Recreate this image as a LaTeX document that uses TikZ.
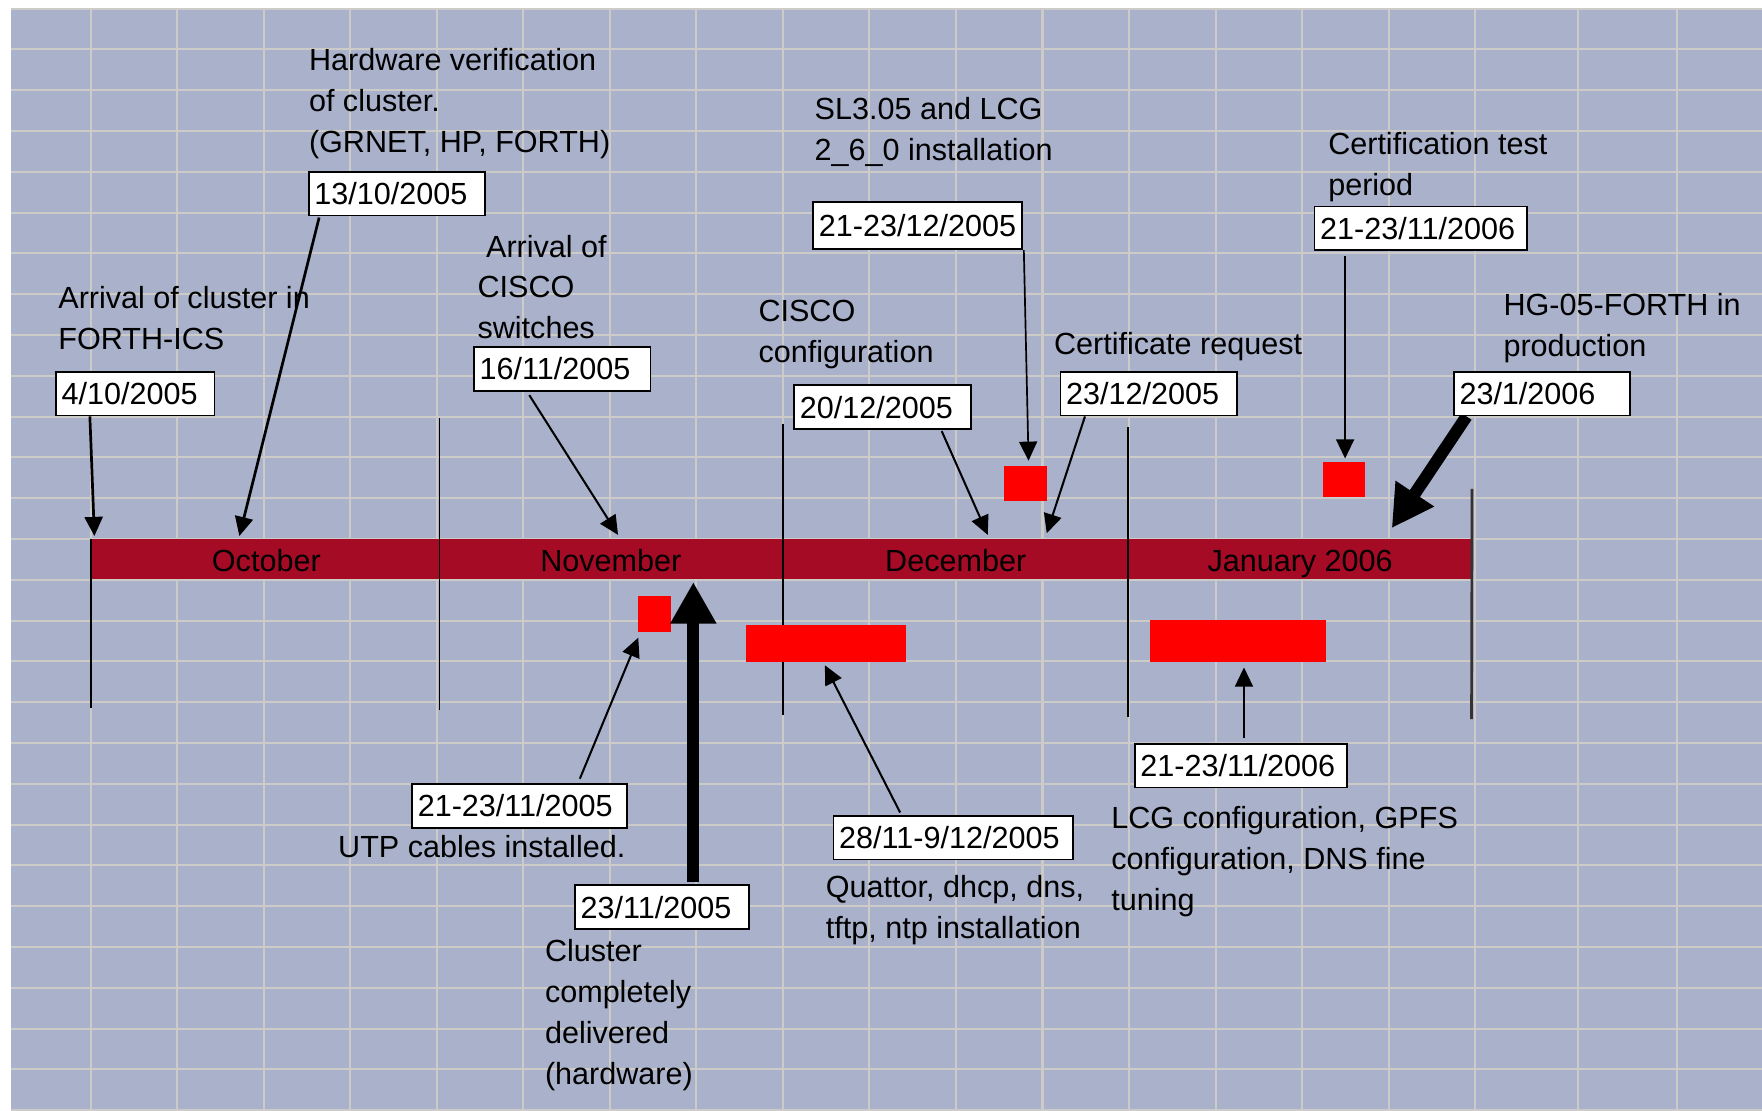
\documentclass[tikz,border=0pt]{standalone}
\usepackage{fontspec}
\setmainfont{Liberation Sans}
\usetikzlibrary{arrows.meta,calc}
\pgfdeclarelayer{front}
\pgfsetlayers{main,front}
\definecolor{bgblue}{HTML}{A9B1CB}
\definecolor{gridgray}{HTML}{CCCBC8}
\definecolor{barred}{HTML}{A50B24}
\definecolor{markred}{HTML}{FF0000}
\tikzset{
  lbl/.style={font=\fontsize{13.6}{18.2}\selectfont, align=left, inner sep=0pt, outer sep=0pt, anchor=north west, text=black},
  datebox/.style={draw=black, line width=0.8pt, fill=white, font=\fontsize{13.6}{16}\selectfont, inner xsep=2.5pt, inner ysep=0pt, minimum height=19.5pt, text width=#1, align=left, anchor=north west},
  monthlbl/.style={font=\fontsize{13.6}{16}\selectfont, anchor=base, inner sep=0pt, text=black},
  gridln/.style={gridgray, line width=0.9pt},
  monthtick/.style={black, line width=0.7pt},
  markbox/.style={fill=markred, draw=none, inner sep=0pt, outer sep=0pt, anchor=north west},
  arr/.style={black, line width=0.9pt, -{Triangle[length=8.5pt,width=8pt]}},
  arrbold/.style={black, line width=1.2pt, -{Triangle[length=8.5pt,width=8pt]}},
  arrthin/.style={black, line width=0.75pt, -{Triangle[length=8.5pt,width=8pt]}},
  arrbig/.style={black, line width=5.4pt, -{Triangle[length=18.5pt,width=19.3pt]}},
}
\begin{document}
\begin{tikzpicture}[x=0.5pt,y=-0.5pt]
\useasboundingbox (0,0) rectangle (1568,988);
\fill[white] (0,0) rectangle (1568,988);
\fill[bgblue] (10,7.7) rectangle (1568,988);
\begin{scope}
  \clip (10,7.7) rectangle (1568,988);
  \foreach \k in {0,...,16} {\draw[gridln] ({80.7+77*\k},0) -- ({80.7+77*\k},988);}
  \foreach \xx in {1404.3,1492.4} {\draw[gridln] (\xx,0) -- (\xx,988);}
  \foreach \k in {-1,...,26} {\draw[gridln] (0,{43.96+36.31*\k}) -- (1568,{43.96+36.31*\k});}
\end{scope}

% timeline bar
\node[fill=barred, inner sep=0pt, outer sep=0pt, minimum width=614pt, minimum height=17.5pt, anchor=north west] (bar) at (82,480) {};
\node[monthlbl] (oct) at (237,509) {October};
\node[monthlbl] (nov) at (543.5,509) {November};
\node[monthlbl] (dec) at (850.5,509) {December};
\node[monthlbl] (jan) at (1157,509) {January 2006};

% month ticks
\draw[monthtick] (81,480) -- (81,630);
\draw[monthtick] (391,372) -- (391,632);
\draw[monthtick] (697,377) -- (697,636);
\draw[monthtick] (1004,380) -- (1004,638);
\draw[monthtick, line width=1.2pt, black!80] (1310,435) -- (1309.5,640);

% red marks
\node[markbox, minimum width=19.3pt, minimum height=15.5pt] (sqA) at (893,415) {};
\node[markbox, minimum width=19pt, minimum height=15.5pt] (sqB) at (1177,411) {};
\node[markbox, minimum width=15pt, minimum height=16pt] (sqC) at (567.5,530.5) {};
\node[markbox, minimum width=71pt, minimum height=16.5pt] (sqD) at (664,556.5) {};
\node[markbox, minimum width=78.5pt, minimum height=18.5pt] (sqE) at (1023,552) {};

% date boxes
\begin{pgfonlayer}{front}
\node[datebox=65.5pt] (b410) at (49,330) {4/10/2005};
\node[datebox=73.5pt] (b1310) at (274,152) {13/10/2005};
\node[datebox=73.5pt] (b1611) at (421,308) {16/11/2005};
\node[datebox=73.5pt] (b2012) at (706,342) {20/12/2005};
\node[datebox=88pt, minimum height=21pt] (b2123d) at (723,179) {21-23/12/2005};
\node[datebox=73.5pt] (b2312) at (943,330) {23/12/2005};
\node[datebox=89.5pt] (b2111a) at (1169,183) {21-23/11/2006};
\node[datebox=73.5pt] (b231) at (1293,330) {23/1/2006};
\node[datebox=90.5pt] (b2123n) at (366,697) {21-23/11/2005};
\node[datebox=72.5pt] (b2311) at (511,787) {23/11/2005};
\node[datebox=101.5pt] (b2811) at (741,725) {28/11-9/12/2005};
\node[datebox=89.5pt] (b2111b) at (1009,661) {21-23/11/2006};
\end{pgfonlayer}

% arrows
\draw[arrbold] ($(b410.south west)+(31,0)$) -- ($(bar.north west)+(2,-3)$);
\draw[arrbold] ($(b1310.south west)+(10,1)$) -- ($(bar.north west)+(131,-3)$);
\draw[arr] ($(b1611.south west)+(50,3)$) -- ($(bar.north west)+(468,-4)$);
\draw[arr] ($(b2012.south west)+(132,1)$) -- ($(bar.north west)+(797,-4)$);
\draw[arrthin] ($(b2123d.south east)+(0.5,0)$) -- ($(sqA.north)+(3,-5)$);
\draw[arr] ($(b2312.south west)+(22.5,0)$) -- ($(bar.north west)+(849.5,-5.5)$);
\draw[arrthin] ($(b2111a.south west)+(28,4)$) -- ($(sqB.north)+(1,-3)$);
\draw[arrbig] ($(b231.south west)+(12,0)$) -- ($(bar.north west)+(1156.5,-10)$);
\draw[arr] ($(b2123n.north west)+(150,-4)$) -- ($(sqC.south west)+(0.5,5)$);
\draw[arrbig] ($(b2311.north west)+(106,-2)$) -- ($(bar.south west)+(535,3)$);
\draw[arr] ($(b2811.north west)+(60,-2)$) -- ($(sqD.south west)+(70,2.5)$);
\draw[arrthin] ($(b2111b.north west)+(98,-4)$) -- ($(sqE.south west)+(84,5)$);

% text labels
\node[lbl] (tArr) at (52,255) {Arrival of cluster in\\FORTH-ICS};
\node[lbl] (tHw) at (275,43) {Hardware verification\\of cluster.\\(GRNET, HP, FORTH)};
\node[lbl] (tCisco) at (425,209) {\hspace*{3.8pt}Arrival of\\CISCO\\switches};
\node[lbl] (tSL) at (725,87) {SL3.05 and LCG\\2\_6\_0 installation};
\node[lbl] (tCiscoC) at (675,267) {CISCO\\configuration};
\node[lbl] (tCert) at (938,296) {Certificate request};
\node[lbl] (tTest) at (1182,118) {Certification test\\period};
\node[lbl] (tProd) at (1338,261) {HG-05-FORTH in\\production};
\node[lbl] (tUTP) at (301,743) {UTP cables installed.};
\node[lbl] (tClu) at (485,836) {Cluster\\completely\\delivered\\(hardware)};
\node[lbl] (tQua) at (735,779) {Quattor, dhcp, dns,\\tftp, ntp installation};
\node[lbl] (tLCG) at (989,718) {LCG configuration, GPFS\\configuration, DNS fine\\tuning};
\end{tikzpicture}
\end{document}
